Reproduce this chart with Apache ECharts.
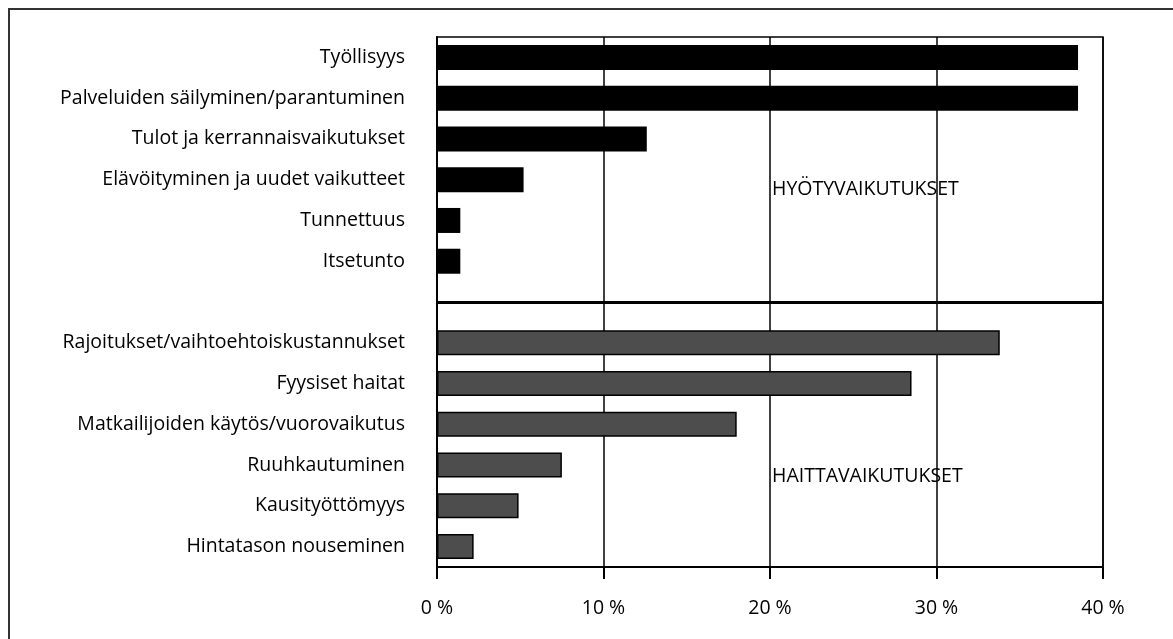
<!DOCTYPE html>
<html>
<head>
<meta charset="utf-8">
<script src="https://cdn.jsdelivr.net/npm/echarts@6/dist/echarts.min.js"></script>
<style>
  html, body { margin: 0; padding: 0; background: #fff; }
  #chart { width: 1173px; height: 639px; }
</style>
</head>
<body>
<div id="chart"></div>
<script>
// hyötyvaikutukset (ylempi ryhmä)
const benefitNames = [
  'Työllisyys',
  'Palveluiden säilyminen/parantuminen',
  'Tulot ja kerrannaisvaikutukset',
  'Elävöityminen ja uudet vaikutteet',
  'Tunnettuus',
  'Itsetunto'
]
const benefitValues = [38.5, 38.5, 12.6, 5.2, 1.4, 1.4]

// haittavaikutukset (alempi ryhmä)
const harmNames = [
  'Rajoitukset/vaihtoehtoiskustannukset',
  'Fyysiset haitat',
  'Matkailijoiden käytös/vuorovaikutus',
  'Ruuhkautuminen',
  'Kausityöttömyys',
  'Hintatason nouseminen'
]
const harmValues = [33.8, 28.5, 18.0, 7.5, 4.9, 2.2]

const xTicks = [0, 10, 20, 30, 40]
const groupLabels = ['HYÖTYVAIKUTUKSET', 'HAITTAVAIKUTUKSET']

const FONT = '"Open Sans", "Noto Sans", sans-serif'
const FS = 19.5

// tyhjä väli ryhmien välissä
const categories = [...benefitNames, '', ...harmNames]
const benefitData = [...benefitValues, ...new Array(harmNames.length + 1).fill('-')]
const harmData = [...new Array(benefitNames.length + 1).fill('-'), ...harmValues]

const chart = echarts.init(document.getElementById('chart'))
chart.setOption({
  animation: false,
  backgroundColor: '#fff',
  grid: {
    left: 437,
    top: 37,
    right: 70,
    bottom: 72,
    show: true,
    borderColor: '#000',
    borderWidth: 1.5,
    containLabel: false
  },
  xAxis: {
    type: 'value',
    min: xTicks[0],
    max: xTicks[xTicks.length - 1],
    interval: 10,
    axisLine: { show: true, lineStyle: { color: '#000', width: 2 } },
    axisTick: { show: true, length: 12, lineStyle: { color: '#000', width: 2 } },
    axisLabel: {
      margin: 31,
      color: '#000',
      fontFamily: FONT,
      fontSize: FS,
      formatter: v => v + ' %'
    },
    splitLine: { show: true, lineStyle: { color: '#000', width: 1.5 } }
  },
  yAxis: {
    type: 'category',
    inverse: true,
    data: categories,
    axisLine: { show: true, lineStyle: { color: '#000', width: 2 } },
    axisTick: { show: false },
    axisLabel: {
      margin: 32,
      color: '#000',
      fontFamily: FONT,
      fontSize: FS
    },
    splitLine: { show: false }
  },
  series: [
    {
      type: 'bar',
      data: benefitData,
      barWidth: 25,
      barGap: '-100%',
      itemStyle: { color: '#000' },
      markLine: {
        silent: true,
        symbol: 'none',
        label: { show: false },
        lineStyle: { color: '#000', width: 3, type: 'solid' },
        data: [{ yAxis: benefitNames.length }]
      }
    },
    {
      type: 'bar',
      data: harmData,
      barWidth: 25,
      barGap: '-100%',
      itemStyle: { color: '#4d4d4d', borderColor: '#000', borderWidth: 1.5 }
    }
  ],
  graphic: [
    {
      type: 'rect',
      shape: { x: 9, y: 9, width: 1400, height: 900 },
      style: { fill: null, stroke: '#333', lineWidth: 2 },
      silent: true
    },
    {
      type: 'text',
      x: 772,
      y: 189,
      style: { text: groupLabels[0], fill: '#000', font: FS + 'px ' + FONT, verticalAlign: 'middle' }
    },
    {
      type: 'text',
      x: 772,
      y: 476,
      style: { text: groupLabels[1], fill: '#000', font: FS + 'px ' + FONT, verticalAlign: 'middle' }
    }
  ]
})
</script>
</body>
</html>
